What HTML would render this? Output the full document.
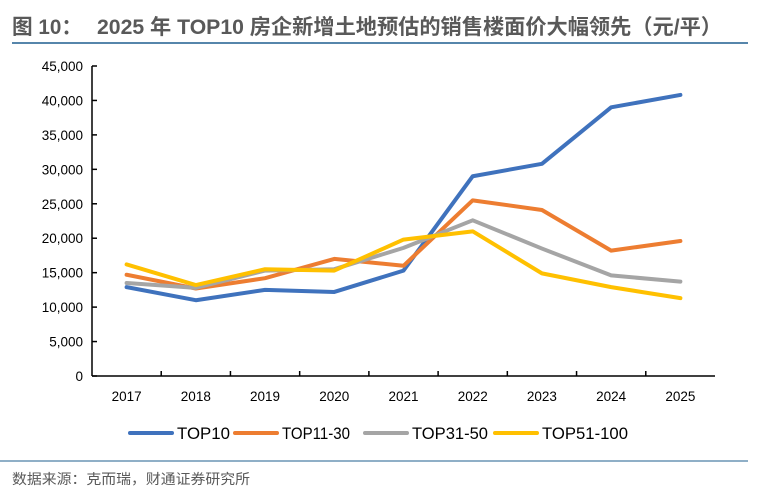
<!DOCTYPE html>
<html><head><meta charset="utf-8"><style>
body{margin:0;width:758px;height:495px;background:#fff;overflow:hidden;font-family:"Liberation Sans","Noto Sans CJK SC",sans-serif;}
</style></head><body>
<svg width="758" height="495" xmlns="http://www.w3.org/2000/svg">
<text x="12" y="34" font-size="21" font-weight="bold" fill="#595959" font-family="Liberation Sans, Noto Sans CJK SC, sans-serif" textLength="70" lengthAdjust="spacingAndGlyphs">图 10：</text>
<text x="97" y="34" font-size="21" font-weight="bold" fill="#595959" font-family="Liberation Sans, Noto Sans CJK SC, sans-serif" textLength="625" lengthAdjust="spacingAndGlyphs">2025 年 TOP10 房企新增土地预估的销售楼面价大幅领先（元/平）</text>
<line x1="12" y1="43" x2="748" y2="43" stroke="#1f5f8f" stroke-width="1.5"/>
<g id="axes"></g>
<g id="series"></g>
<g id="legend"></g>
<line x1="0" y1="461" x2="748" y2="461" stroke="#1f5f8f" stroke-width="1"/>
<text x="12" y="484" font-size="14" fill="#595959" textLength="238" lengthAdjust="spacingAndGlyphs">数据来源：克而瑞，财通证券研究所</text>
</svg>
<script>
const categories=["2017","2018","2019","2020","2021","2022","2023","2024","2025"];
const seriesNames=["TOP10","TOP11-30","TOP31-50","TOP51-100"];
const top10=[12900,11000,12500,12200,15300,29000,30800,39000,40800];
const top11_30=[14700,12700,14200,17000,16000,25500,24100,18200,19600];
const top31_50=[13500,12800,15300,15500,18600,22600,18500,14600,13700];
const top51_100=[16200,13200,15500,15300,19800,21000,14900,12900,11300];
const yTicks=[0,5000,10000,15000,20000,25000,30000,35000,40000,45000];
const NS="http://www.w3.org/2000/svg";
const x0=92,x1=715,y0=376,y1=66,yMax=45000;
const step=(x1-x0)/categories.length;
const xS=i=>x0+(i+0.5)*step;
const yS=v=>y0-(v/yMax)*(y0-y1);
function mk(t,a,p){const e=document.createElementNS(NS,t);for(const k in a)e.setAttribute(k,a[k]);p.appendChild(e);return e;}
const ax=document.getElementById('axes');
let l=mk('line',{x1:x0,y1:y1,x2:x0,y2:y0,stroke:'#000','stroke-width':1.5},ax);


l=mk('line',{x1:x0,y1:y0,x2:x1,y2:y0,stroke:'#000','stroke-width':1.5},ax);


yTicks.forEach(v=>{
 const y=yS(v);
 mk('line',{x1:x0,y1:y,x2:x0+5,y2:y,stroke:'#000','stroke-width':1.5},ax);
 const t=mk('text',{x:x0-9,y:y+5,'font-size':13.5,'text-anchor':'end',fill:'#000'},ax);
 t.textContent=v.toLocaleString('en-US');
 
 
});
categories.forEach((c,i)=>{
 if(i>0){const x=x0+i*step;mk('line',{x1:x,y1:y0,x2:x,y2:y0-5,stroke:'#000','stroke-width':1.5},ax);}
 const t=mk('text',{x:xS(i),y:y0+25,'font-size':13.5,'text-anchor':'middle',fill:'#000'},ax);
 t.textContent=c;
 
 
});
const all=[top10,top11_30,top31_50,top51_100];
const colors=['#3f72bd','#ed7d31','#a5a5a5','#ffc000'];
const sg=document.getElementById('series');
all.forEach((d,k)=>{
 const p=mk('polyline',{points:d.map((v,i)=>xS(i)+','+yS(v)).join(' '),fill:'none',stroke:colors[k],'stroke-width':4,'stroke-linejoin':'round','stroke-linecap':'round'},sg);
 
 
});
const lg=document.getElementById('legend');
const lx=[130,235,365,495];
const lw=[53,68,76,86];
seriesNames.forEach((n,k)=>{
 const g=mk('g',{},lg);
 
 
 mk('line',{x1:lx[k],y1:433,x2:lx[k]+42,y2:433,stroke:colors[k],'stroke-width':4,'stroke-linecap':'round'},g);
 const t=mk('text',{x:lx[k]+47,y:439,'font-size':17,fill:'#000',textLength:lw[k],lengthAdjust:'spacingAndGlyphs'},g);
 t.textContent=n;
});
</script>
</body></html>
